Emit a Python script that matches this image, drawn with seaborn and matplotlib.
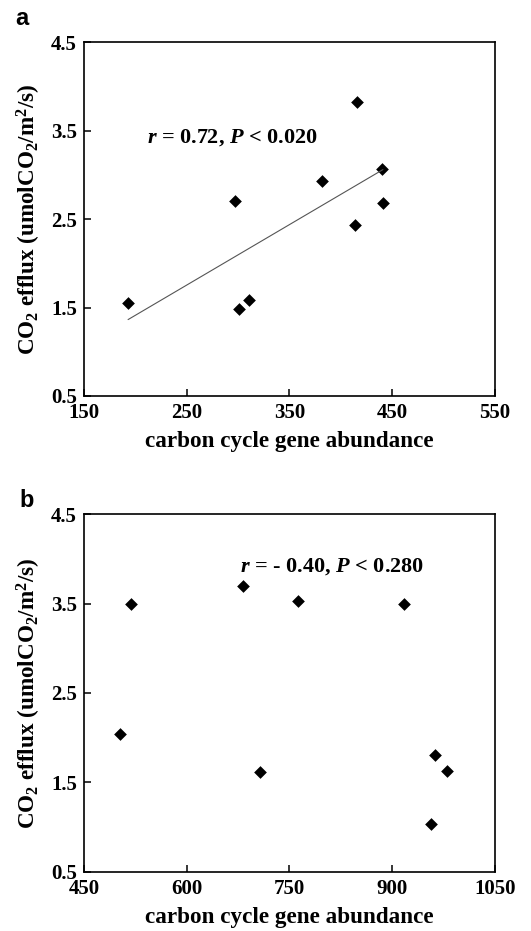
import matplotlib; matplotlib.use("Agg")
import matplotlib.pyplot as plt
import seaborn as sns
import pandas as pd

# panel a: gene abundance vs CO2 efflux (positive fit)
a_abund = [193, 297, 301, 311, 382, 416, 414, 440, 441]
a_efflux = [1.55, 2.70, 1.48, 1.58, 2.93, 3.82, 2.43, 3.07, 2.68]
a_note = "$r$ = 0.72, $P$ < 0.020"
a_xticks = [150, 250, 350, 450, 550]

# panel b: no significant fit
b_abund = [502, 519, 682, 707, 762, 917, 957, 963, 980]
b_efflux = [2.04, 3.50, 3.70, 1.62, 3.53, 3.50, 1.03, 1.81, 1.63]
b_note = "$r$ = - 0.40, $P$ < 0.280"
b_xticks = [450, 600, 750, 900, 1050]

yticks = [0.5, 1.5, 2.5, 3.5, 4.5]
xlab = "carbon cycle gene abundance"
ylab = "CO$_2$ efflux (umolCO$_2$/m$^2$/s)"

sns.set_style("ticks")
plt.rcParams["font.family"] = ["Liberation Serif", "DejaVu Serif"]
plt.rcParams["font.weight"] = "bold"
plt.rcParams["mathtext.fontset"] = "custom"
plt.rcParams["mathtext.rm"] = "Liberation Serif:bold"
plt.rcParams["mathtext.it"] = "Liberation Serif:bold:italic"
plt.rcParams["mathtext.bf"] = "Liberation Serif:bold"
for k in ["text.color", "axes.labelcolor", "xtick.color", "ytick.color", "axes.edgecolor"]:
    plt.rcParams[k] = "black"

fig = plt.figure(figsize=(5.31, 9.31), dpi=100)
ax_a = fig.add_axes([0.158, 0.5747, 0.774, 0.380])
ax_b = fig.add_axes([0.158, 0.0637, 0.774, 0.3839])

def style(ax, xticks, letter, lx, ly):
    ax.set_xlim(xticks[0], xticks[-1]); ax.set_ylim(0.5, 4.5)
    ax.set_xticks(xticks); ax.set_yticks(yticks)
    ax.set_yticklabels([f"{v:.1f}" for v in yticks])
    ax.tick_params(direction="in", length=5, width=1.1, labelsize=15, pad=5, colors="black")
    for s in ax.spines.values(): s.set_linewidth(1.2); s.set_color("black"); s.set_visible(True)
    ax.set_xlabel(xlab, fontsize=16.7, fontweight="bold", labelpad=6)
    ax.set_ylabel(ylab, fontsize=16.7, fontweight="bold", labelpad=6)
    ax.text(lx, ly, letter, transform=ax.transAxes, fontsize=17, fontweight="bold",
            family="Liberation Sans", ha="left", va="baseline", color="black")

da = pd.DataFrame({"x": a_abund, "y": a_efflux})
db = pd.DataFrame({"x": b_abund, "y": b_efflux})

sns.regplot(data=da, x="x", y="y", ax=ax_a, scatter=False, ci=None, truncate=True,
            line_kws=dict(color="#555555", linewidth=0.8))
sns.scatterplot(data=da, x="x", y="y", ax=ax_a, marker="D", s=42, color="black", edgecolor="black", linewidth=0)
ax_a.text(211, 3.42, a_note, fontsize=16, fontweight="bold", va="center", ha="left")
style(ax_a, a_xticks, "a", -0.168, 1.048)

sns.scatterplot(data=db, x="x", y="y", ax=ax_b, marker="D", s=42, color="black", edgecolor="black", linewidth=0)
ax_b.text(678, 3.91, b_note, fontsize=16, fontweight="bold", va="center", ha="left")
style(ax_b, b_xticks, "b", -0.156, 1.020)

fig.savefig("out.png", dpi=100)
